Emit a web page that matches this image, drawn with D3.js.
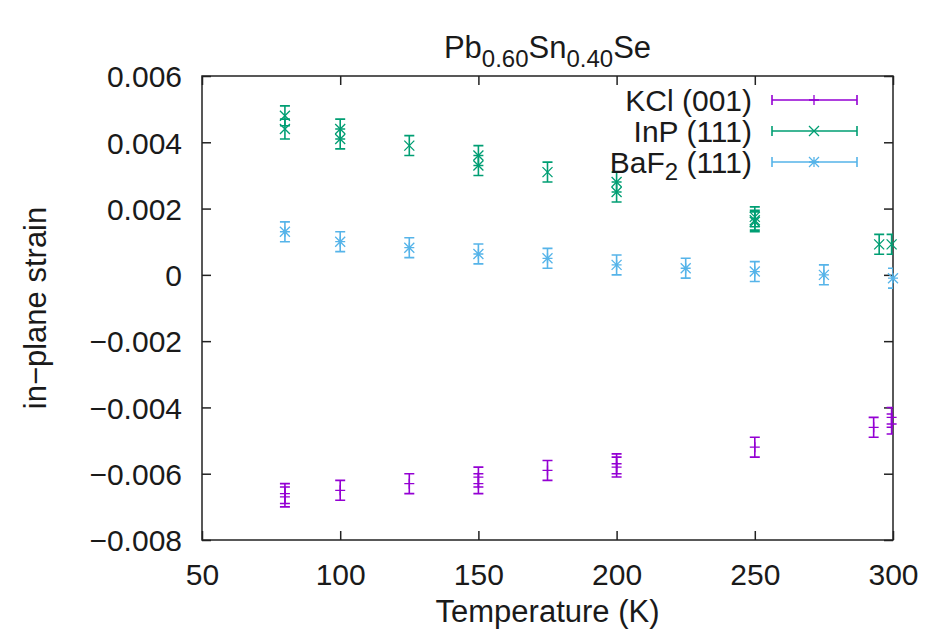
<!DOCTYPE html>
<html>
<head>
<meta charset="utf-8">
<script src="https://cdn.jsdelivr.net/npm/d3@7"></script>
<style>
  body { margin: 0; background: #fff; }
  text { font-family: "Liberation Sans", Arial, sans-serif; fill: #1a1a1a; }
</style>
</head>
<body>
<div id="chart"></div>
<script>
// data (temperature in K, strain, error)
const kclTemps = [80, 80, 100, 125, 150, 150, 175, 200, 200, 250, 293, 299.5, 299.5];
const kclStrain = [-0.0066, -0.0067, -0.0065, -0.0063, -0.0061, -0.0063, -0.0059, -0.0057, -0.0058, -0.0052, -0.0046, -0.0043, -0.0045];
const kclErr = [0.0003, 0.0003, 0.0003, 0.0003, 0.0003, 0.0003, 0.0003, 0.0003, 0.0003, 0.0003, 0.0003, 0.0003, 0.0003];

const inpTemps = [80, 80, 100, 100, 125, 150, 150, 175, 200, 200, 250, 250, 250, 295, 299.5];
const inpStrain = [0.0048, 0.0044, 0.0044, 0.0041, 0.0039, 0.0036, 0.0033, 0.0031, 0.0028, 0.0025, 0.00175, 0.00165, 0.0016, 0.00092, 0.00092];
const inpErr = [0.0003, 0.0003, 0.0003, 0.0003, 0.0003, 0.0003, 0.0003, 0.0003, 0.0003, 0.0003, 0.0003, 0.0003, 0.0003, 0.0003, 0.0003];

const baf2Temps = [80, 100, 125, 150, 175, 200, 225, 250, 275, 300];
const baf2Strain = [0.0013, 0.001, 0.00082, 0.00063, 0.0005, 0.0003, 0.0002, 0.0001, 0.0000, -0.0001];
const baf2Err = [0.0003, 0.0003, 0.0003, 0.0003, 0.0003, 0.0003, 0.0003, 0.0003, 0.0003, 0.0003];

const xTicks = [50, 100, 150, 200, 250, 300];
const yTicks = [-0.008, -0.006, -0.004, -0.002, 0, 0.002, 0.004, 0.006];

// series description
const series = [
  { name: 'KCl (001)', sub: null, tail: '', temps: kclTemps, vals: kclStrain, errs: kclErr, color: '#9400d3', marker: 'plus' },
  { name: 'InP (111)', sub: null, tail: '', temps: inpTemps, vals: inpStrain, errs: inpErr, color: '#009e73', marker: 'cross' },
  { name: 'BaF', sub: '2', tail: ' (111)', temps: baf2Temps, vals: baf2Strain, errs: baf2Err, color: '#56b4e9', marker: 'star' },
];

const width = 943, height = 636;
const plot = { left: 202, right: 893, top: 76, bottom: 540 };

const svg = d3.select('#chart').append('svg')
  .attr('width', width)
  .attr('height', height);

const x = d3.scaleLinear().domain([50, 300]).range([plot.left, plot.right]);
const y = d3.scaleLinear().domain([-0.008, 0.006]).range([plot.bottom, plot.top]);

const tickLen = 9;
const fmtY = (d) => d === 0 ? '0' : d3.format('.3f')(d);

// axes: ticks inside, mirrored on top/right
const gx = svg.append('g').attr('transform', `translate(0,${plot.bottom})`)
  .call(d3.axisBottom(x).tickValues(xTicks).tickSizeInner(-tickLen).tickSizeOuter(0).tickPadding(24));
const gxTop = svg.append('g').attr('transform', `translate(0,${plot.top})`)
  .call(d3.axisTop(x).tickValues(xTicks).tickSizeInner(-tickLen).tickSizeOuter(0).tickFormat(''));
const gy = svg.append('g').attr('transform', `translate(${plot.left},0)`)
  .call(d3.axisLeft(y).tickValues(yTicks).tickSizeInner(-tickLen).tickSizeOuter(0).tickPadding(20).tickFormat(fmtY));
const gyRight = svg.append('g').attr('transform', `translate(${plot.right},0)`)
  .call(d3.axisRight(y).tickValues(yTicks).tickSizeInner(-tickLen).tickSizeOuter(0).tickFormat(''));

[gx, gxTop, gy, gyRight].forEach((g) => {
  g.select('.domain').remove();
  g.selectAll('.tick line').attr('stroke', '#222').attr('stroke-width', 1.5);
  g.selectAll('.tick text').attr('font-size', 30).attr('fill', '#1a1a1a')
    .style('font-family', '"Liberation Sans", Arial, sans-serif');
});
gy.selectAll('.tick text').attr('dy', '0.36em');

// border
svg.append('rect')
  .attr('x', plot.left).attr('y', plot.top)
  .attr('width', plot.right - plot.left).attr('height', plot.bottom - plot.top)
  .attr('fill', 'none').attr('stroke', '#222').attr('stroke-width', 1.5);

// clip for error bars
svg.append('clipPath').attr('id', 'plot-clip')
  .append('rect')
  .attr('x', plot.left).attr('y', plot.top)
  .attr('width', plot.right - plot.left).attr('height', plot.bottom - plot.top);

const capW = 5;
const mSize = 5;

function drawMarker(g, type, cx, cy, color) {
  const path = d3.path();
  if (type === 'plus' || type === 'star') {
    path.moveTo(cx - mSize, cy); path.lineTo(cx + mSize, cy);
    path.moveTo(cx, cy - mSize); path.lineTo(cx, cy + mSize);
  }
  if (type === 'cross' || type === 'star') {
    path.moveTo(cx - mSize, cy - mSize); path.lineTo(cx + mSize, cy + mSize);
    path.moveTo(cx - mSize, cy + mSize); path.lineTo(cx + mSize, cy - mSize);
  }
  g.append('path').attr('d', path.toString())
    .attr('stroke', color).attr('stroke-width', 1.3).attr('fill', 'none');
}

series.forEach((s) => {
  const rows = s.temps.map((t, i) => ({ t: t, v: s.vals[i], e: s.errs[i] }));
  const g = svg.append('g');
  const bars = g.append('g').attr('clip-path', 'url(#plot-clip)');
  rows.forEach((d) => {
    const cx = x(d.t);
    const y0 = y(d.v - d.e), y1 = y(d.v + d.e);
    const p = d3.path();
    p.moveTo(cx, y0); p.lineTo(cx, y1);
    p.moveTo(cx - capW, y0); p.lineTo(cx + capW, y0);
    p.moveTo(cx - capW, y1); p.lineTo(cx + capW, y1);
    bars.append('path').attr('d', p.toString())
      .attr('stroke', s.color).attr('stroke-width', 1.6).attr('fill', 'none');
    drawMarker(g, s.marker, cx, y(d.v), s.color);
  });
});

// legend
const legendTop = 100, legendStep = 31;
series.forEach((s, i) => {
  const ly = legendTop + i * legendStep;
  const t = svg.append('text')
    .attr('x', 752).attr('y', ly).attr('dy', '0.36em')
    .attr('text-anchor', 'end').attr('font-size', 30);
  t.append('tspan').text(s.name);
  if (s.sub) {
    t.append('tspan').attr('font-size', 24).attr('dy', '0.3em').text(s.sub);
    t.append('tspan').attr('dy', '-0.25em').text(s.tail);
  }
  const p = d3.path();
  p.moveTo(772, ly); p.lineTo(857, ly);
  p.moveTo(772, ly - capW); p.lineTo(772, ly + capW);
  p.moveTo(857, ly - capW); p.lineTo(857, ly + capW);
  svg.append('path').attr('d', p.toString())
    .attr('stroke', s.color).attr('stroke-width', 1.6).attr('fill', 'none');
  drawMarker(svg, s.marker, 814, ly, s.color);
});

// title with subscripts
const title = svg.append('text')
  .attr('x', (plot.left + plot.right) / 2).attr('y', 58)
  .attr('text-anchor', 'middle').attr('font-size', 31);
title.append('tspan').text('Pb');
title.append('tspan').attr('font-size', 24).attr('dy', 9).text('0.60');
title.append('tspan').attr('dy', -9).text('Sn');
title.append('tspan').attr('font-size', 24).attr('dy', 9).text('0.40');
title.append('tspan').attr('dy', -9).text('Se');

// axis labels
svg.append('text')
  .attr('x', (plot.left + plot.right) / 2).attr('y', 622)
  .attr('text-anchor', 'middle').attr('font-size', 31)
  .text('Temperature (K)');

svg.append('text')
  .attr('transform', `translate(46,${(plot.top + plot.bottom) / 2}) rotate(-90)`)
  .attr('text-anchor', 'middle').attr('font-size', 31)
  .text('in\u2212plane strain');
</script>
</body>
</html>
